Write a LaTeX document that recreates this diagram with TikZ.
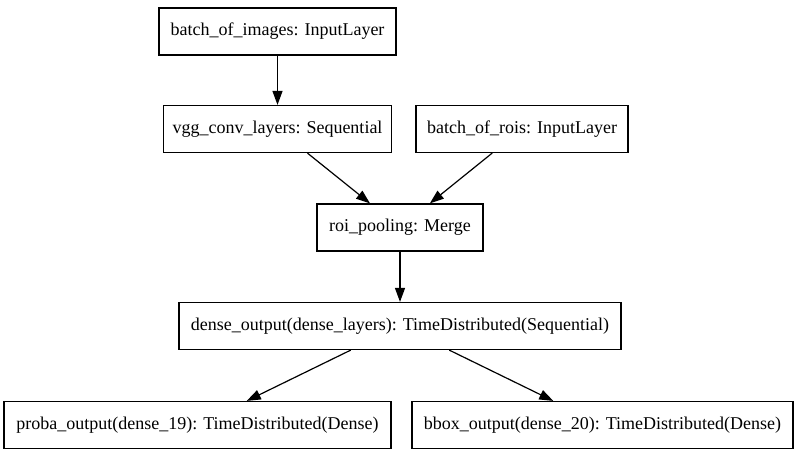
\documentclass[tikz,border=0pt]{standalone}
\usepackage{fontspec}
\setmainfont{Liberation Serif}
\usetikzlibrary{arrows.meta}

\begin{document}
\begin{tikzpicture}[x=1pt,y=-1pt,line width=1.2pt,>={Triangle[length=14pt,width=10pt]},
  layer/.style={draw,rectangle,minimum height=47pt,inner sep=0pt,
    font=\fontsize{18}{20}\selectfont}]
  \useasboundingbox (0,0) rectangle (799,456);
  \node[layer,minimum width=237pt] (imgs) at (277.5,31.5) {batch\_of\_images: InputLayer};
  \node[layer,minimum width=228pt] (vgg) at (277.5,129) {vgg\_conv\_layers: Sequential};
  \node[layer,minimum width=212pt] (rois) at (522,129) {batch\_of\_rois: InputLayer};
  \node[layer,minimum width=166pt] (pool) at (400,227.5) {roi\_pooling: Merge};
  \node[layer,minimum width=442pt] (dense) at (400,326) {dense\_output(dense\_layers): TimeDistributed(Sequential)};
  \node[layer,minimum width=387pt] (proba) at (197.5,425) {proba\_output(dense\_19): TimeDistributed(Dense)};
  \node[layer,minimum width=381pt] (bbox) at (602.5,425) {bbox\_output(dense\_20): TimeDistributed(Dense)};
  \draw[->] (imgs) -- (vgg);
  \draw[->] (vgg) -- (pool);
  \draw[->] (rois) -- (pool);
  \draw[->] (pool) -- (dense);
  \draw[->] (dense) -- (proba);
  \draw[->] (dense) -- (bbox);
\end{tikzpicture}
\end{document}
